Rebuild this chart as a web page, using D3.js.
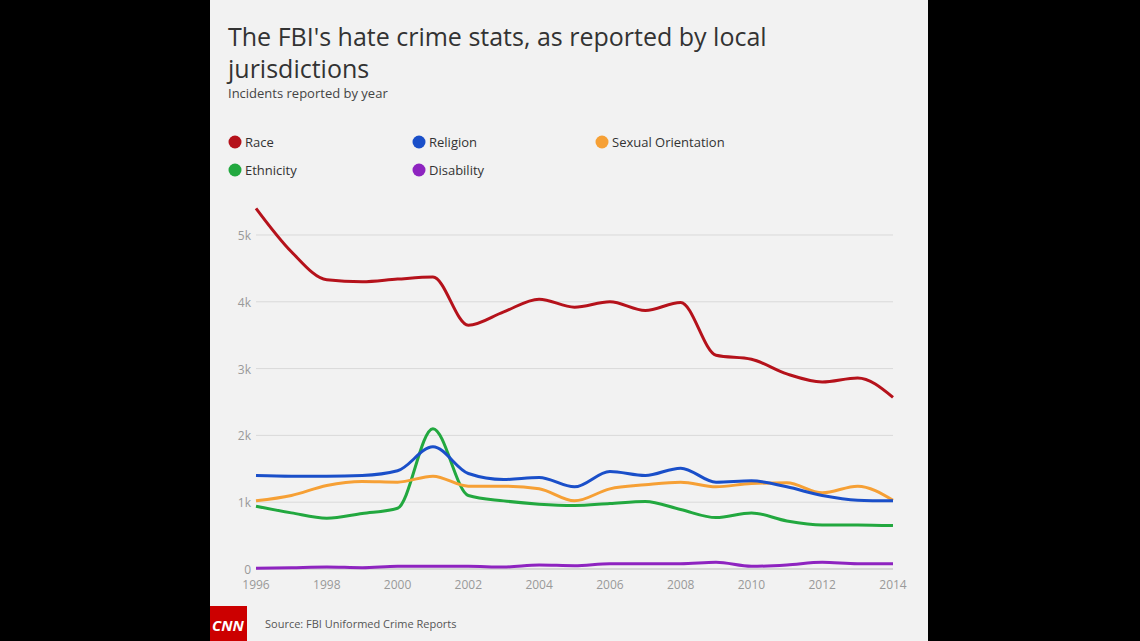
<!DOCTYPE html>
<html><head><meta charset="utf-8">
<script src="https://cdn.jsdelivr.net/npm/d3@7"></script>
<style>body{margin:0;background:#000;font-family:"Open Sans",Arial,sans-serif}</style>
</head><body><svg id="c" width="1140" height="641"></svg>
<script>
const years=d3.range(1996,2015);
const race=[5400,4750,4330,4300,4340,4370,3650,3850,4040,3920,4000,3870,3990,3200,3140,2920,2800,2860,2570];
const religion=[1400,1390,1390,1400,1470,1830,1430,1340,1370,1230,1460,1400,1510,1300,1320,1230,1100,1030,1020];
const sexual=[1020,1100,1250,1310,1300,1390,1240,1240,1200,1020,1200,1260,1300,1230,1280,1290,1140,1240,1030];
const ethnicity=[940,840,760,830,910,2100,1100,1020,970,950,980,1010,890,770,840,720,660,660,650];
const disability=[10,20,30,20,40,40,40,30,60,50,80,80,80,100,40,60,100,80,80];
const series=[["Race",race,"#b5121b"],["Religion",religion,"#1a4fc9"],["Sexual Orientation",sexual,"#f6a035"],["Ethnicity",ethnicity,"#22a83f"],["Disability",disability,"#8e24c0"]];
const xTicks=d3.range(1996,2015,2);
const yTicks=[0,1000,2000,3000,4000,5000];
const svg=d3.select("#c");
svg.append("rect").attr("x",210).attr("y",0).attr("width",718).attr("height",641).attr("fill","#f2f2f2");
svg.append("text").attr("x",228).attr("y",46).attr("font-size",25).attr("fill","#333").text("The FBI's hate crime stats, as reported by local");
svg.append("text").attr("x",228).attr("y",78).attr("font-size",25).attr("fill","#333").text("jurisdictions");
svg.append("text").attr("x",228).attr("y",98).attr("font-size",13).attr("fill","#444").text("Incidents reported by year");
const lx=[235,419,602];
series.forEach((s,i)=>{const g=svg.append("g").attr("transform",`translate(${lx[i%3]},${142+(i>=3?28:0)})`);
g.append("circle").attr("r",6.5).attr("fill",s[2]);
g.append("text").attr("x",10).attr("y",5).attr("font-size",13).attr("fill","#333").text(s[0]);});
const x=d3.scaleLinear().domain([1996,2014]).range([256,893]);
const y=d3.scaleLinear().domain([0,5000]).range([569,235]);
const grid=svg.append("g");
yTicks.forEach(t=>{grid.append("line").attr("x1",256).attr("x2",893).attr("y1",y(t)).attr("y2",y(t)).attr("stroke",t?"#d9d9d9":"#bbb");
grid.append("text").attr("x",251).attr("y",y(t)+5).attr("text-anchor","end").attr("font-size",12).attr("fill","#999").text(t?t/1000+"k":"0");});
xTicks.forEach(t=>svg.append("text").attr("x",x(t)).attr("y",589).attr("text-anchor","middle").attr("font-size",12).attr("fill","#999").text(t));
const line=d3.line().x((d,i)=>x(years[i])).y(d=>y(d)).curve(d3.curveMonotoneX);
series.slice().reverse().forEach(s=>svg.append("path").attr("d",line(s[1])).attr("fill","none").attr("stroke",s[2]).attr("stroke-width",3));
svg.append("rect").attr("x",210).attr("y",606).attr("width",37).attr("height",35).attr("fill","#cc0000");
svg.append("text").attr("x",228).attr("y",631).attr("text-anchor","middle").attr("font-size",15).attr("font-weight","bold").attr("fill","#fff").attr("font-style","italic").text("CNN");
svg.append("text").attr("x",265).attr("y",628).attr("font-size",11).attr("fill","#555").text("Source: FBI Uniformed Crime Reports");
</script></body></html>
